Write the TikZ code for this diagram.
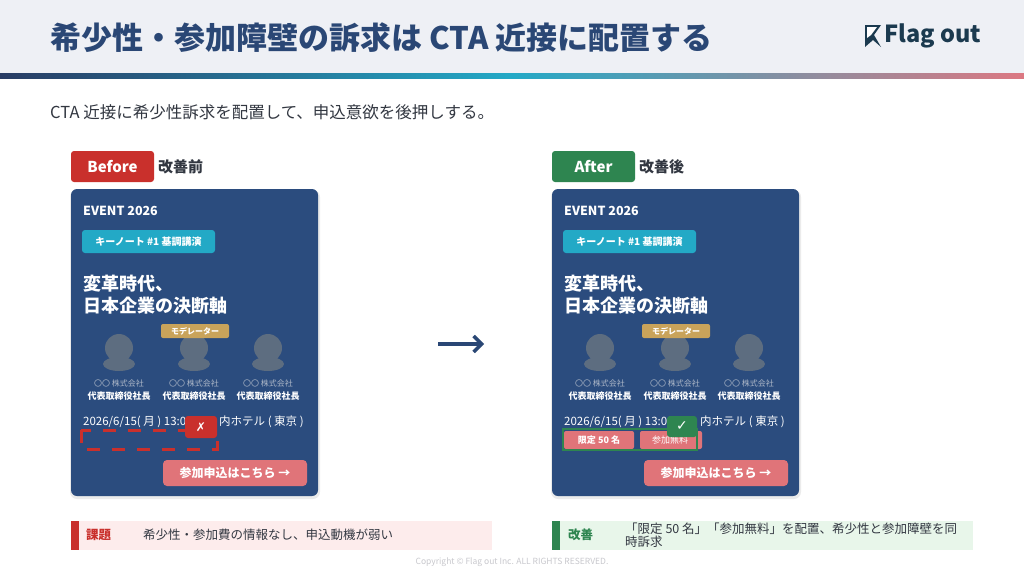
\documentclass[tikz,border=0pt]{standalone}
\usepackage{fontspec}
\setmainfont{Noto Sans CJK JP}
\newfontfamily\djv{DejaVu Sans}
\usetikzlibrary{calc,arrows.meta}
\definecolor{navy}{HTML}{2B4C7E}
\definecolor{ttl}{HTML}{2A4775}
\definecolor{red1}{HTML}{C9302C}
\definecolor{grn}{HTML}{2E8550}
\definecolor{pinkb}{HTML}{E07479}
\definecolor{teal}{HTML}{23A9C6}
\definecolor{gold}{HTML}{C9A35A}
\definecolor{pers}{HTML}{5D6D80}
\definecolor{lg}{HTML}{AEB8C8}
\definecolor{logoc}{HTML}{1B3A4F}
\definecolor{hdr}{HTML}{EEF0F5}
\definecolor{dtx}{HTML}{323741}
\definecolor{gl}{HTML}{283C64}
\definecolor{gr}{HTML}{DC7882}
\definecolor{pinkbg}{HTML}{FDECEC}
\definecolor{grnbg}{HTML}{E8F6EA}
\definecolor{cpc}{HTML}{C8C8CD}
\begin{document}
\begin{tikzpicture}[x=1pt,y=-1pt,
  wt/.style={text=white,font=\bfseries,inner sep=0pt},
  tx/.style={anchor=west,inner sep=0pt}]
\useasboundingbox (0,0) rectangle (1024,576);
\fill[white] (0,0) rectangle (1024,576);
\fill[hdr] (0,0) rectangle (1024,73);
\shade[left color=gl, right color=teal] (0,73) rectangle (512,78);
\shade[left color=teal, right color=gr] (512,73) rectangle (1024,78);
\node[tx,text=ttl,font=\bfseries\fontsize{31}{34}\selectfont] (title) at (50,38) {希少性・参加障壁の訴求は CTA 近接に配置する};
% logo
\fill[logoc] (865,25) -- (881,25) -- (874,35) -- (881,47) -- (873,40) -- (865,47) -- cycle;
\fill[white] (867,27) -- (877,27) -- (871,35) -- (867,38) -- cycle;
\node[tx,text=logoc,font=\bfseries\fontsize{23.5}{26}\selectfont] (logo) at (884,36) {Flag out};
\node[tx,text=dtx,font=\fontsize{16.5}{19}\selectfont] (sub) at (50,112) {CTA 近接に希少性訴求を配置して、申込意欲を後押しする。};
% labels
\fill[red1,rounded corners=3] (71,151) rectangle (154,182);
\node[wt,font=\bfseries\fontsize{15}{17}\selectfont] (bl) at (112.5,166.5) {Before};
\node[tx,font=\bfseries\fontsize{15}{17}\selectfont,text=dtx] (bl2) at (158,166.5) {改善前};
\fill[grn,rounded corners=3] (552,151) rectangle (635,182);
\node[wt,font=\bfseries\fontsize{15}{17}\selectfont] (al) at (593.5,166.5) {After};
\node[tx,font=\bfseries\fontsize{15}{17}\selectfont,text=dtx] (al2) at (639,166.5) {改善後};
% cards
\foreach \o in {0,481}{
\begin{scope}[xshift=\o]
\fill[black,opacity=0.08,rounded corners=7] (70,190) rectangle (320,499);
\fill[navy,rounded corners=6] (71,189) rectangle (318,496);
\node[tx,text=white,font=\bfseries\fontsize{12.5}{14}\selectfont] at (83,211) {EVENT 2026};
\fill[teal,rounded corners=3] (82,230) rectangle (215,253);
\node[wt,font=\bfseries\fontsize{10}{12}\selectfont] at (148.5,241.5) {キーノート \#1 基調講演};
\node[tx,text=white,font=\bfseries\fontsize{18}{20}\selectfont] at (83,284) {変革時代、};
\node[tx,text=white,font=\bfseries\fontsize{18}{20}\selectfont] at (83,306) {日本企業の決断軸};
\foreach \cx in {119,194,268}{
 \fill[pers] (\cx,348) circle (14);
 \fill[pers] (\cx,364) ellipse (16 and 7);
 \node[text=lg,inner sep=0pt,font=\fontsize{8}{9}\selectfont] at (\cx,383) {〇〇 株式会社};
 \node[wt,font=\bfseries\fontsize{9}{10}\selectfont] at (\cx,396) {代表取締役社長};
}
\fill[gold,rounded corners=2] (161,324) rectangle (229,338);
\node[wt,font=\bfseries\fontsize{8}{9}\selectfont] at (195,331) {モデレーター};
\node[tx,text=white,font=\fontsize{11.5}{13}\selectfont] at (83,422) {2026/6/15( 月 ) 13:00-};
\node[tx,text=white,font=\fontsize{11.5}{13}\selectfont] at (219,422) {内ホテル ( 東京 )};
\fill[pinkb,rounded corners=4] (163,460) rectangle (307,486);
\node[wt,font=\bfseries\fontsize{12}{13}\selectfont] at (235,473) {参加申込はこちら →};
\end{scope}}
% before highlight
\draw[red1,line width=3,dash pattern=on 13 off 12] (81,430) rectangle (217,449);
\fill[red1,rounded corners=3] (185,416) rectangle (217,438);
\node[wt,font=\djv\bfseries\fontsize{12}{14}\selectfont] (xm) at (201,427) {✗};
% after badges
\fill[pinkb,rounded corners=2] (564,431) rectangle (634,449);
\node[wt,font=\bfseries\fontsize{9}{10}\selectfont] at (599,440) {限定 50 名};
\fill[pinkb,rounded corners=2] (640,431) rectangle (702,449);
\node[wt,font=\fontsize{9}{10}\selectfont] at (670,440) {参加無料};
\draw[grn,line width=2] (563,429) rectangle (697,450);
\fill[grn,rounded corners=3] (667,416) rectangle (697,437);
\node[wt,font=\djv\fontsize{14}{15}\selectfont] (ck) at (682,426) {✓};
% arrow
\coordinate (pa) at (438,344); \coordinate (pb) at (484,344);
\draw[ttl,line width=3.5,-{Straight Barb[length=8,width=16]}] (pa) -- (pb);
% bottom boxes
\fill[pinkbg] (71,521) rectangle (492,550);
\fill[red1] (71,521) rectangle (79,550);
\node[tx,text=red1,font=\bfseries\fontsize{12.5}{14}\selectfont] at (86,535) {課題};
\node[tx,text=dtx,font=\fontsize{12.5}{14}\selectfont] at (143,535) {希少性・参加費の情報なし、申込動機が弱い};
\fill[grnbg] (552,521) rectangle (973,550);
\fill[grn] (552,521) rectangle (560,550);
\node[tx,text=grn,font=\bfseries\fontsize{12.5}{14}\selectfont] at (568,535) {改善};
\node[tx,text=dtx,font=\fontsize{12.5}{14}\selectfont] at (625,529) {「限定 50 名」「参加無料」を配置、希少性と参加障壁を同};
\node[tx,text=dtx,font=\fontsize{12.5}{14}\selectfont] at (625,542) {時訴求};
\node[text=cpc,font=\fontsize{8.5}{9}\selectfont] (cp) at (512,562) {Copyright © Flag out Inc. ALL RIGHTS RESERVED.};
\end{tikzpicture}
\end{document}
